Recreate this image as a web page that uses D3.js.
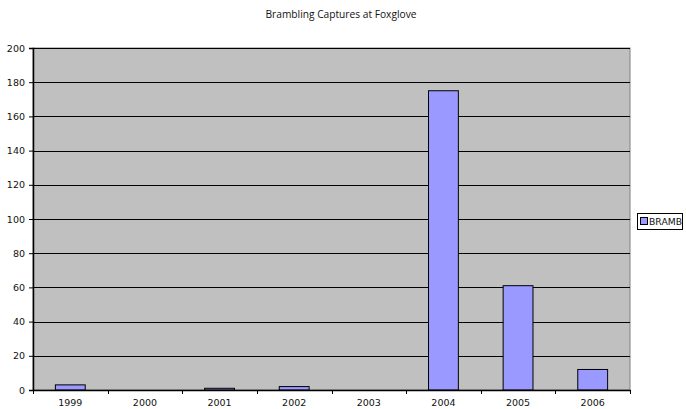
<!DOCTYPE html>
<html>
<head>
<meta charset="utf-8">
<script src="https://cdn.jsdelivr.net/npm/d3@7"></script>
<style>
  body { margin: 0; background: #fff; }
  svg { display: block; }
</style>
</head>
<body>
<div id="chart"></div>
<script>
// data
var years = ["1999", "2000", "2001", "2002", "2003", "2004", "2005", "2006"];
var bramb = [3, 0, 1, 2, 0, 175, 61, 12];
var yTicks = [0, 20, 40, 60, 80, 100, 120, 140, 160, 180, 200];

var W = 686, H = 409;
var margin = {top: 48, right: 56, bottom: 19, left: 33};
var width = W - margin.left - margin.right,
    height = H - margin.top - margin.bottom;

var svg = d3.select("#chart").append("svg")
    .attr("width", W)
    .attr("height", H);

// title
svg.append("text")
    .attr("x", 341)
    .attr("y", 18)
    .attr("text-anchor", "middle")
    .style("font-family", "'Open Sans', sans-serif")
    .style("font-size", "10.2px")
    .style("fill", "#111")
    .text("Brambling Captures at Foxglove");

var g = svg.append("g")
    .attr("transform", "translate(" + margin.left + "," + margin.top + ")");

var x = d3.scaleBand().domain(years).range([0, width]).paddingInner(0).paddingOuter(0);
var y = d3.scaleLinear().domain([0, 200]).range([height, 0]);

// plot background
g.append("rect")
    .attr("width", width)
    .attr("height", height)
    .style("fill", "#c0c0c0")
    .style("stroke", "#808080")
    .style("stroke-width", 1);

// gridlines
g.selectAll(".grid")
    .data(yTicks.filter(function(d) { return d > 0; }))
    .enter().append("line")
    .attr("class", "grid")
    .attr("x1", 0)
    .attr("x2", width)
    .attr("y1", function(d) { return Math.round(y(d)) + 0.5; })
    .attr("y2", function(d) { return Math.round(y(d)) + 0.5; })
    .style("stroke", "#000")
    .style("stroke-width", 1);

// bars
var barW = x.bandwidth() / 2.5;
g.selectAll(".bar")
    .data(bramb)
    .enter().append("rect")
    .attr("class", "bar")
    .attr("x", function(d, i) { return x(years[i]) + (x.bandwidth() - barW) / 2; })
    .attr("y", function(d) { return y(d); })
    .attr("width", barW)
    .attr("height", function(d) { return height - y(d); })
    .style("fill", "#9999ff")
    .style("stroke", "#000")
    .style("stroke-width", 1)
    .style("display", function(d) { return d > 0 ? null : "none"; });

// y axis
var yAxis = g.append("g")
    .call(d3.axisLeft(y).tickValues(yTicks).tickSize(4).tickPadding(4));
yAxis.select(".domain").style("stroke", "#000").style("stroke-width", 1.5);
yAxis.selectAll("text")
    .style("font-family", "'DejaVu Sans', sans-serif")
    .style("font-size", "9.5px")
    .style("fill", "#111");

// x axis
var xAxis = g.append("g")
    .attr("transform", "translate(0," + height + ")")
    .call(d3.axisBottom(x).tickSize(0).tickPadding(9));
xAxis.select(".domain").style("stroke", "#000").style("stroke-width", 1.5);
xAxis.selectAll("text")
    .style("font-family", "'DejaVu Sans', sans-serif")
    .style("font-size", "9.5px")
    .style("fill", "#111");

// category separator ticks
g.selectAll(".xtick")
    .data(d3.range(years.length + 1))
    .enter().append("line")
    .attr("x1", function(i) { return Math.round(i * x.step()) + 0.5; })
    .attr("x2", function(i) { return Math.round(i * x.step()) + 0.5; })
    .attr("y1", height)
    .attr("y2", height + 4)
    .style("stroke", "#000");

// legend
var leg = svg.append("g")
    .attr("transform", "translate(637,213)");
leg.append("rect")
    .attr("x", 0.5).attr("y", 0.5)
    .attr("width", 45).attr("height", 16)
    .style("fill", "#fff")
    .style("stroke", "#000");
leg.append("rect")
    .attr("x", 3.5).attr("y", 4.5)
    .attr("width", 7).attr("height", 7)
    .style("fill", "#9999ff")
    .style("stroke", "#000");
leg.append("text")
    .attr("x", 12)
    .attr("y", 12)
    .attr("textLength", 33)
    .attr("lengthAdjust", "spacingAndGlyphs")
    .style("font-family", "'DejaVu Sans', sans-serif")
    .style("font-size", "9.5px")
    .style("fill", "#111")
    .text("BRAMB");
</script>
</body>
</html>
